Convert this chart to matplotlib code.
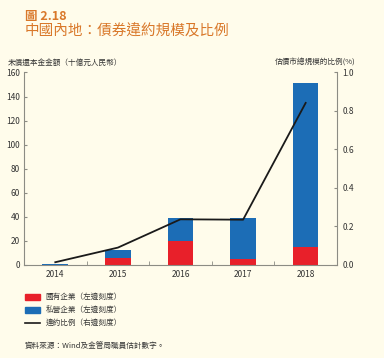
import matplotlib
matplotlib.use("Agg")
import matplotlib.pyplot as plt
import numpy as np
from matplotlib.patches import Rectangle
from matplotlib.lines import Line2D

plt.rcParams["font.family"] = ["Noto Sans CJK TC", "DejaVu Sans"]

years = ["2014", "2015", "2016", "2017", "2018"]
soe = [0.2, 5.8, 20.0, 4.8, 15.0]          # 國有企業 (十億元人民幣)
private = [0.8, 6.7, 19.4, 34.1, 136.4]    # 私營企業
ratio = [0.014, 0.09, 0.237, 0.235, 0.842] # 違約比例 (%)

BG = "#FFFCEB"
RED = "#E8202A"
BLUE = "#1C6DB6"
ORANGE = "#D9782A"
AXIS = "#8C8C84"

fig = plt.figure(figsize=(3.84, 3.58), dpi=100, facecolor=BG)
ax = fig.add_axes([0.0625, 0.26, 0.815, 0.5375], facecolor=BG)

x = np.arange(len(years))
w = 0.41
ax.bar(x, soe, width=w, color=RED, zorder=2)
ax.bar(x, private, width=w, bottom=soe, color=BLUE, zorder=2)

ax.set_xlim(-0.5, len(years) - 0.5)
ax.set_ylim(0, 160)
ax.set_yticks(range(0, 161, 20))
ax.set_xticks(x)
ax.set_xticklabels(years)
ax.set_xticks(np.arange(0.5, len(years) - 1, 1), minor=True)
ax.tick_params(axis="x", which="major", length=0, labelsize=6, colors="#333333", pad=4)
ax.tick_params(axis="x", which="minor", length=3, direction="in", color=AXIS)
ax.tick_params(axis="y", length=2.5, direction="in", color=AXIS, labelsize=6,
               labelcolor="#333333", pad=3)
for s in ["top", "right"]:
    ax.spines[s].set_visible(False)
for s in ["left", "bottom"]:
    ax.spines[s].set_color(AXIS)
    ax.spines[s].set_linewidth(0.8)

ax2 = ax.twinx()
ax2.plot(x, ratio, color="#1a1a1a", lw=1.3, zorder=3)
ax2.set_ylim(0, 1.0)
ax2.set_yticks(np.arange(0, 1.01, 0.2))
ax2.set_yticklabels([f"{v:.1f}" for v in np.arange(0, 1.01, 0.2)])
ax2.tick_params(axis="y", length=2.5, direction="in", color=AXIS, labelsize=6,
                labelcolor="#333333", pad=4)
for s in ["top", "left", "bottom"]:
    ax2.spines[s].set_visible(False)
ax2.spines["right"].set_color(AXIS)
ax2.spines["right"].set_linewidth(0.8)

fig.text(0.065, 0.955, "圖 2.18", color=ORANGE, fontsize=9, fontweight="bold",
         va="center")
fig.text(0.065, 0.912, "中國內地：債券違約規模及比例", color=ORANGE, fontsize=10.5,
         va="center")
fig.text(0.02, 0.825, "未償還本金金額（十億元人民幣）", fontsize=5.5, color="#333333",
         va="center")
fig.text(0.925, 0.825, "估債市總規模的比例(%)", fontsize=5.5, color="#333333",
         va="center", ha="right")

# legend
items = [("patch", RED, "國有企業（左邊刻度）"),
         ("patch", BLUE, "私營企業（左邊刻度）"),
         ("line", "#1a1a1a", "違約比例（右邊刻度）")]
for i, (kind, c, label) in enumerate(items):
    yy = 0.17 - i * 0.036
    if kind == "patch":
        fig.patches.append(Rectangle((0.065, yy - 0.008), 0.04, 0.016, color=c,
                                     transform=fig.transFigure))
    else:
        fig.lines.append(Line2D([0.065, 0.105], [yy, yy], color=c, lw=1.2,
                                transform=fig.transFigure))
    fig.text(0.118, yy, label, fontsize=5.5, color="#333333", va="center")

fig.text(0.065, 0.03, "資料來源：Wind及金管局職員估計數字。", fontsize=5.5,
         color="#333333", va="center")

fig.savefig("out.png", dpi=100, facecolor=BG)
